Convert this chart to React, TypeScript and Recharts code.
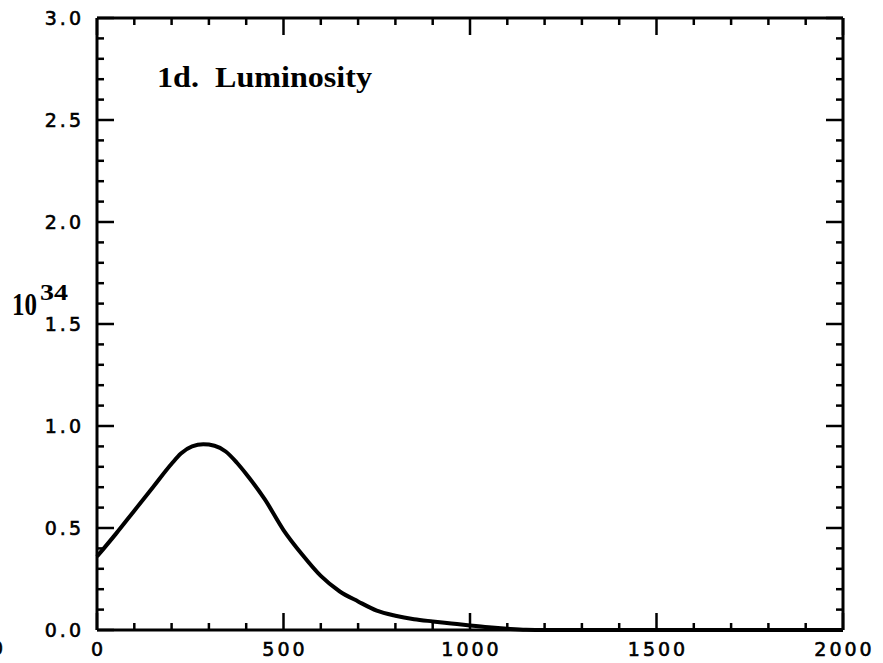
import { LineChart, Line, XAxis, YAxis, ReferenceLine } from "recharts";

const timeSteps = [0, 50, 100, 150, 200, 225, 255, 285, 315, 345, 375, 400, 450, 500, 550, 600, 650, 700, 750, 800, 850, 900, 950, 1000, 1050, 1100, 1150, 1200, 1500, 2000];
const luminosity = [0.36, 0.47, 0.585, 0.7, 0.815, 0.865, 0.9, 0.91, 0.903, 0.875, 0.82, 0.765, 0.64, 0.49, 0.37, 0.265, 0.19, 0.14, 0.095, 0.07, 0.053, 0.042, 0.032, 0.022, 0.013, 0.006, 0.001, 0, 0, 0];

const xTicks = [0, 100, 200, 300, 400, 500, 600, 700, 800, 900, 1000, 1100, 1200, 1300, 1400, 1500, 1600, 1700, 1800, 1900, 2000];
const xLabelled = [0, 500, 1000, 1500, 2000];
const yTicks = [0, 0.1, 0.2, 0.3, 0.4, 0.5, 0.6, 0.7, 0.8, 0.9, 1, 1.1, 1.2, 1.3, 1.4, 1.5, 1.6, 1.7, 1.8, 1.9, 2, 2.1, 2.2, 2.3, 2.4, 2.5, 2.6, 2.7, 2.8, 2.9, 3];
const yLabelled = [0, 0.5, 1, 1.5, 2, 2.5, 3];

const data = timeSteps.map((t, i) => ({ t, lum: luminosity[i] }));

// chart frame
const W = 883;
const H = 663;
const M = { top: 18, right: 40, bottom: 0, left: 37 };
const Y_AXIS_W = 60;
const X_AXIS_H = 33;
const plot = {
  left: M.left + Y_AXIS_W,
  right: W - M.right,
  top: M.top,
  bottom: H - M.bottom - X_AXIS_H,
};

const MAJOR = 17;
const MINOR = 7;
const labelFont = { fill: "#000", stroke: "#000", strokeWidth: 0.6, fontSize: 19, fontFamily: "DejaVu Sans", letterSpacing: 3 };

function XTick(props: any) {
  const x = props.x;
  const v = props.payload.value;
  const major = xLabelled.includes(v);
  const len = major ? MAJOR : MINOR;
  return (
    <g>
      <line x1={x} x2={x} y1={plot.bottom} y2={plot.bottom - len} stroke="#000" strokeWidth={2.5} />
      <line x1={x} x2={x} y1={plot.top} y2={plot.top + len} stroke="#000" strokeWidth={2.5} />
      {major && (
        <text x={x + 1.5} y={plot.bottom + 26} textAnchor="middle" {...labelFont}>
          {v}
        </text>
      )}
    </g>
  );
}

function YTick(props: any) {
  const y = props.y;
  const v = props.payload.value;
  const major = yLabelled.some((m) => Math.abs(m - v) < 1e-6);
  const len = major ? MAJOR : MINOR;
  return (
    <g>
      <line x1={plot.left} x2={plot.left + len} y1={y} y2={y} stroke="#000" strokeWidth={2.5} />
      <line x1={plot.right} x2={plot.right - len} y1={y} y2={y} stroke="#000" strokeWidth={2.5} />
      {major && (
        <text x={84} y={y + 7} textAnchor="end" {...labelFont}>
          {v.toFixed(1)}
        </text>
      )}
    </g>
  );
}

export default function App() {
  return (
    <div style={{ position: "absolute", left: 0, top: 0, width: W, height: H, background: "#fff" }}>
      <LineChart width={W} height={H} data={data} margin={M}>
        <XAxis
          type="number"
          dataKey="t"
          domain={[0, 2000]}
          ticks={xTicks}
          interval={0}
          height={X_AXIS_H}
          tickLine={false}
          axisLine={{ stroke: "#000", strokeWidth: 3 }}
          tick={<XTick />}
        />
        <YAxis
          type="number"
          domain={[0, 3]}
          ticks={yTicks}
          interval={0}
          width={Y_AXIS_W}
          tickLine={false}
          axisLine={{ stroke: "#000", strokeWidth: 3 }}
          tick={<YTick />}
        />
        <ReferenceLine x={2000} stroke="#000" strokeWidth={3} />
        <ReferenceLine y={3} stroke="#000" strokeWidth={3} />
        <Line type="monotone" dataKey="lum" stroke="#000" strokeWidth={4} dot={false} isAnimationActive={false} />
      </LineChart>
      <svg width={W} height={H} style={{ position: "absolute", left: 0, top: 0, pointerEvents: "none" }}>
        <text x={157} y={87} fontFamily="Liberation Serif" fontWeight="bold" fontSize={29} textLength={215} lengthAdjust="spacingAndGlyphs" style={{ whiteSpace: "pre" }}>
          1d.  Luminosity
        </text>
        <text x={12} y={315} fontFamily="Liberation Serif" fontWeight="bold" fontSize={32} textLength={25} lengthAdjust="spacingAndGlyphs">
          10
        </text>
        <text x={40} y={300} fontFamily="Liberation Serif" fontWeight="bold" fontSize={24} textLength={28} lengthAdjust="spacingAndGlyphs">
          34
        </text>
        <text x={-9} y={655} fontFamily="DejaVu Sans" fontSize={19} stroke="#000" strokeWidth={0.6}>
          0
        </text>
      </svg>
    </div>
  );
}
